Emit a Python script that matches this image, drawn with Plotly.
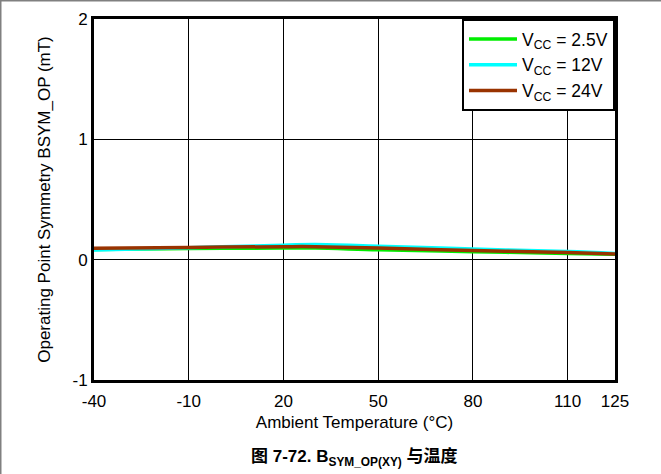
import plotly.graph_objects as go

temps = [-40, -10, 20, 30, 50, 80, 110, 125]
vcc_2p5 = [0.085, 0.092, 0.097, 0.097, 0.082, 0.066, 0.052, 0.045]
vcc_12 = [0.080, 0.100, 0.120, 0.127, 0.112, 0.088, 0.067, 0.052]
vcc_24 = [0.095, 0.102, 0.108, 0.108, 0.096, 0.077, 0.059, 0.047]

series = [
    ("V<sub>CC</sub> = 2.5V", vcc_2p5, "#00ee00"),
    ("V<sub>CC</sub> = 12V", vcc_12, "#00ffff"),
    ("V<sub>CC</sub> = 24V", vcc_24, "#993300"),
]

x_ticks = [-40, -10, 20, 50, 80, 110, 125]
y_ticks = [-1, 0, 1, 2]

fig = go.Figure()
for name, vals, col in series:
    fig.add_trace(go.Scatter(x=temps, y=vals, name=name, mode="lines",
                             line=dict(color=col, width=3.5, shape="spline")))

W, H = 661, 474
ml, mr, mt, mb = 94, 46, 19, 94
pw, ph = W - ml - mr, H - mt - mb
FONT = "Liberation Sans, Arial, sans-serif"

fig.update_layout(
    width=W, height=H,
    margin=dict(l=ml, r=mr, t=mt, b=mb, autoexpand=False),
    paper_bgcolor="white", plot_bgcolor="white",
    font=dict(family=FONT, size=17, color="black"),
    showlegend=True,
    legend=dict(x=1, y=1, xanchor="right", yanchor="top",
                bordercolor="black", borderwidth=2, bgcolor="white",
                font=dict(family=FONT, size=17.5, color="black"),
                tracegroupgap=0, itemwidth=48),
    xaxis=dict(range=[-40, 125], tickvals=x_ticks, ticktext=[str(v) for v in x_ticks],
               tickfont=dict(family=FONT, size=17, color="black"),
               ticklabelstandoff=4,
               showgrid=True, gridcolor="black", gridwidth=1,
               showline=True, linecolor="black", linewidth=3, mirror=True,
               ticks="", zeroline=False, automargin=False,
               title=dict(text="Ambient Temperature (°C)", standoff=6,
                          font=dict(family=FONT, size=17, color="black"))),
    yaxis=dict(range=[-1, 2], tickvals=y_ticks, ticktext=[str(v) for v in y_ticks],
               tickfont=dict(family=FONT, size=17, color="black"),
               showgrid=True, gridcolor="black", gridwidth=1,
               showline=True, linecolor="black", linewidth=3, mirror=True,
               ticks="", zeroline=False, automargin=False,
               title=dict(text="Operating Point Symmetry BSYM_OP (mT)", standoff=18,
                          font=dict(family=FONT, size=17, color="black"))),
)

fig.add_annotation(text="<b>图 7-72. B<sub>SYM_OP(XY)</sub> 与温度</b>",
                   xref="paper", yref="paper", x=0.5, y=(H - mb - 458) / ph,
                   yanchor="middle", showarrow=False,
                   font=dict(size=17, color="black",
                             family="Liberation Sans, Noto Sans CJK SC, sans-serif"))

# outer gray border on top and left edges
fig.add_shape(type="line", xref="paper", yref="paper",
              x0=-ml / pw, x1=(W - ml) / pw, y0=(H - mb - 0.75) / ph, y1=(H - mb - 0.75) / ph,
              line=dict(color="#808080", width=1.5))
fig.add_shape(type="line", xref="paper", yref="paper",
              x0=(-ml + 0.75) / pw, x1=(-ml + 0.75) / pw, y0=-mb / ph, y1=(H - mb) / ph,
              line=dict(color="#808080", width=1.5))

fig.write_html("out.html", config={"displayModeBar": False},
               post_script="document.body.style.margin='0';document.body.style.padding='0';")
